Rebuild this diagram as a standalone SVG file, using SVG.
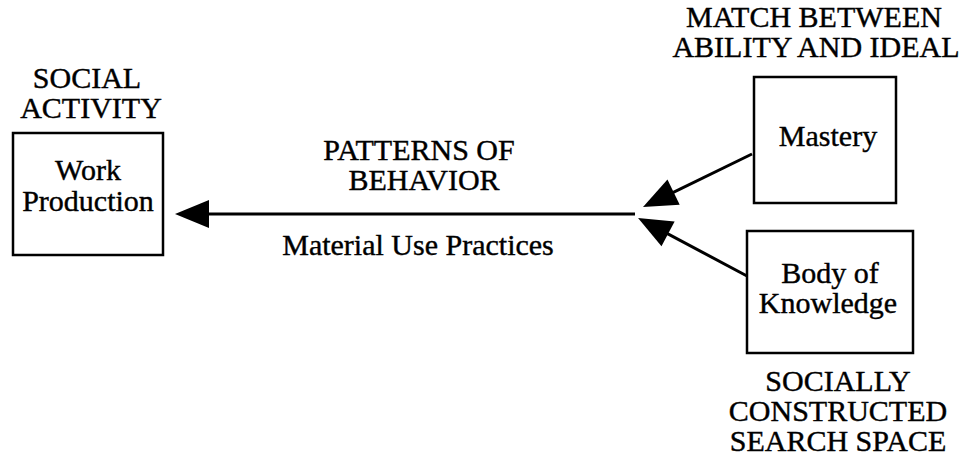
<svg xmlns="http://www.w3.org/2000/svg" width="965" height="459" viewBox="0 0 965 459">
  <style>
    text { font-family: "Liberation Serif", "Times New Roman", serif; font-size: 30px; fill: #000; stroke: #000; stroke-width: 0.4; text-anchor: middle; }
    .box { fill: #fff; stroke: #000; stroke-width: 2.5; }
    .conn { fill: none; stroke: #000; stroke-width: 3; }
  </style>
  <defs>
    <marker id="arrow" viewBox="-36 -16 38 32" refX="-20" refY="0" markerWidth="38" markerHeight="32" markerUnits="userSpaceOnUse" orient="auto">
      <path d="M0,0 L-34,-14 L-34,14 Z" fill="#000"/>
    </marker>
  </defs>
  <rect width="965" height="459" fill="#fff"/>

  <!-- connectors -->
  <g id="connectors">
    <line class="conn" x1="635" y1="214" x2="195" y2="214" marker-end="url(#arrow)"/>
    <line class="conn" x1="752" y1="154" x2="661" y2="198.3" marker-end="url(#arrow)"/>
    <line class="conn" x1="747" y1="276" x2="655.7" y2="227.4" marker-end="url(#arrow)"/>
    <text x="419" y="160">PATTERNS OF</text>
    <text x="424" y="190">BEHAVIOR</text>
    <text x="418" y="255">Material Use Practices</text>
  </g>

  <!-- social activity -->
  <g id="work-production">
    <text x="87" y="88">SOCIAL</text>
    <text x="91" y="118">ACTIVITY</text>
    <rect class="box" x="13" y="133" width="150" height="122"/>
    <text x="88" y="180">Work</text>
    <text x="88" y="211">Production</text>
  </g>

  <!-- match between ability and ideal -->
  <g id="mastery">
    <text x="814" y="27">MATCH BETWEEN</text>
    <text x="816" y="57">ABILITY AND IDEAL</text>
    <rect class="box" x="754" y="77" width="142" height="126"/>
    <text x="828" y="146">Mastery</text>
  </g>

  <!-- socially constructed search space -->
  <g id="body-of-knowledge">
    <rect class="box" x="747" y="231" width="166" height="122"/>
    <text x="830" y="283">Body of</text>
    <text x="828" y="313">Knowledge</text>
    <text x="838" y="391">SOCIALLY</text>
    <text x="838" y="421">CONSTRUCTED</text>
    <text x="838" y="451">SEARCH SPACE</text>
  </g>
</svg>
